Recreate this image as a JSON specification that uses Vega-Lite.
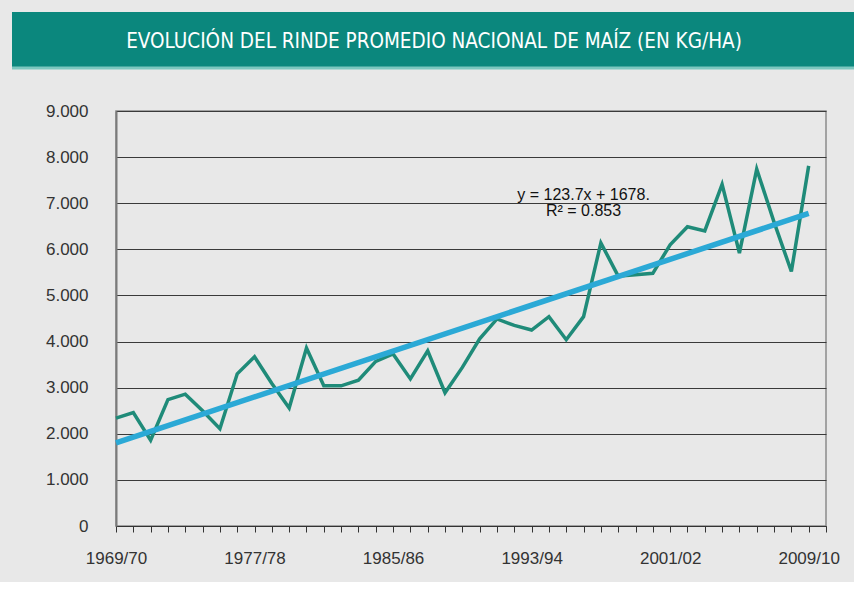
{
  "$schema": "https://vega.github.io/schema/vega-lite/v6.json",
  "background": "#E8E8E8",
  "padding": {"left": 10, "top": 12, "right": 0, "bottom": 15},
  "spacing": 31,
  "config": {
    "font": "Liberation Sans",
    "view": {"stroke": null}
  },
  "datasets": {
    "maiz": [
      {"year": 1969, "yield": 2340},
      {"year": 1970, "yield": 2460},
      {"year": 1971, "yield": 1860},
      {"year": 1972, "yield": 2740},
      {"year": 1973, "yield": 2860},
      {"year": 1974, "yield": 2500},
      {"year": 1975, "yield": 2110},
      {"year": 1976, "yield": 3300},
      {"year": 1977, "yield": 3670},
      {"year": 1978, "yield": 3090},
      {"year": 1979, "yield": 2560},
      {"year": 1980, "yield": 3860},
      {"year": 1981, "yield": 3040},
      {"year": 1982, "yield": 3040},
      {"year": 1983, "yield": 3160},
      {"year": 1984, "yield": 3570},
      {"year": 1985, "yield": 3730},
      {"year": 1986, "yield": 3190},
      {"year": 1987, "yield": 3800},
      {"year": 1988, "yield": 2890},
      {"year": 1989, "yield": 3440},
      {"year": 1990, "yield": 4060},
      {"year": 1991, "yield": 4490},
      {"year": 1992, "yield": 4350},
      {"year": 1993, "yield": 4250},
      {"year": 1994, "yield": 4540},
      {"year": 1995, "yield": 4040},
      {"year": 1996, "yield": 4540},
      {"year": 1997, "yield": 6140},
      {"year": 1998, "yield": 5420},
      {"year": 1999, "yield": 5450},
      {"year": 2000, "yield": 5480},
      {"year": 2001, "yield": 6100},
      {"year": 2002, "yield": 6490},
      {"year": 2003, "yield": 6400},
      {"year": 2004, "yield": 7410},
      {"year": 2005, "yield": 5920},
      {"year": 2006, "yield": 7740},
      {"year": 2007, "yield": 6590},
      {"year": 2008, "yield": 5520},
      {"year": 2009, "yield": 7810}
    ],
    "eq": [
      {"year": 1996, "yield": 7180, "label": "y = 123.7x + 1678."},
      {"year": 1996, "yield": 6830, "label": "R² = 0.853"}
    ]
  },
  "vconcat": [
    {
      "width": 844,
      "height": 56,
      "view": {"fill": "#0B877D", "stroke": null},
      "data": {"values": [{}]},
      "layer": [
        {
          "mark": {"type": "rule", "stroke": "#7CC7BF", "strokeWidth": 3},
          "encoding": {"y": {"value": "height"}}
        },
        {
          "mark": {"type": "text", "color": "white", "fontSize": 20.5, "font": "Liberation Sans Narrow, DejaVu Sans Condensed, sans-serif", "align": "center", "baseline": "middle", "dy": 2},
          "encoding": {"text": {"value": "EVOLUCIÓN DEL RINDE PROMEDIO NACIONAL DE MAÍZ (EN KG/HA)"}}
        }
      ]
    },
    {
      "spacing": 0,
      "hconcat": [
        {
          "width": 32,
          "height": 415,
          "data": {"values": [{}]},
          "mark": {"type": "text", "opacity": 0},
          "encoding": {"text": {"value": ""}}
        },
        {
          "width": 710,
          "height": 415,
          "view": {"stroke": "#8A8A8A", "strokeWidth": 1.5},
          "encoding": {
            "x": {
              "field": "year",
              "type": "quantitative",
              "scale": {"domain": [1969, 2010], "nice": false, "zero": false},
              "axis": {
                "title": null,
                "values": [1969,1970,1971,1972,1973,1974,1975,1976,1977,1978,1979,1980,1981,1982,1983,1984,1985,1986,1987,1988,1989,1990,1991,1992,1993,1994,1995,1996,1997,1998,1999,2000,2001,2002,2003,2004,2005,2006,2007,2008,2009,2010],
                "labelExpr": "(datum.value - 1969) % 8 == 0 ? datum.value + '/' + format((datum.value + 1) % 100, '02d') : ''",
                "grid": false,
                "domainColor": "#333333",
                "domainWidth": 1.2,
                "tickColor": "#333333",
                "tickSize": 6,
                "tickWidth": 1,
                "labelFontSize": 17,
                "labelColor": "#333333",
                "labelPadding": 18,
                "labelFlush": false,
                "labelOverlap": false
              }
            },
            "y": {
              "field": "yield",
              "type": "quantitative",
              "scale": {"domain": [0, 9000], "nice": false},
              "axis": {
                "title": null,
                "values": [0, 1000, 2000, 3000, 4000, 5000, 6000, 7000, 8000, 9000],
                "labelExpr": "replace(format(datum.value, ','), ',', '.')",
                "grid": true,
                "gridColor": "#3A3A3A",
                "gridWidth": 1,
                "ticks": false,
                "domainColor": "#7A7A7A",
                "domainWidth": 2,
                "labelFontSize": 17,
                "labelColor": "#333333",
                "labelPadding": 28
              }
            }
          },
          "layer": [
            {
              "data": {"name": "maiz"},
              "mark": {"type": "line", "color": "#1F8B79", "strokeWidth": 3.5, "strokeJoin": "miter"}
            },
            {
              "data": {"name": "maiz"},
              "transform": [{"regression": "yield", "on": "year"}],
              "mark": {"type": "line", "color": "#2BA9D6", "strokeWidth": 5.5}
            },
            {
              "data": {"name": "eq"},
              "mark": {"type": "text", "fontSize": 16, "color": "#111111", "align": "center", "baseline": "middle"},
              "encoding": {
                "text": {"field": "label", "type": "nominal"}
              }
            }
          ]
        }
      ]
    }
  ]
}
